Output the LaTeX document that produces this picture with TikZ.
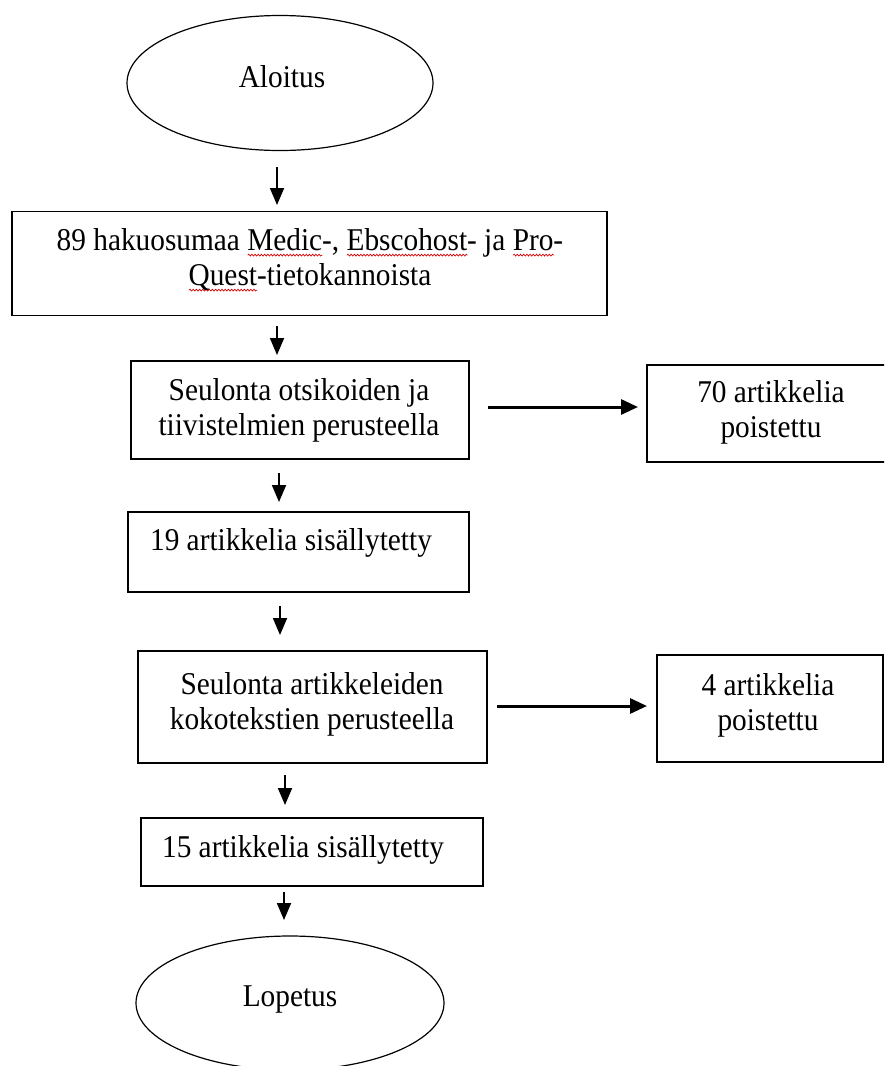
\documentclass[tikz,border=0pt]{standalone}
\usepackage{fontspec}
\setmainfont{Liberation Serif}[FakeStretch=0.925]
\usetikzlibrary{shapes.geometric,arrows.meta,decorations.pathmorphing}
\newlength\wavelen
\newcommand\spellwave[1]{\settowidth{\wavelen}{#1}\rlap{\tikz[baseline=0pt]\draw[red!85!black, line width=0.7pt, decorate, decoration={snake, amplitude=0.9pt, segment length=3.2pt}] (0pt,-4.5pt) -- (\wavelen,-4.5pt);}#1}
\begin{document}
\begin{tikzpicture}[x=1pt,y=-1pt,
  every node/.style={font=\fontsize{31.7}{35}\selectfont},
  box/.style={draw, line width=1.3pt, rectangle, inner sep=0pt},
  oval/.style={draw, line width=1.2pt, ellipse, inner sep=0pt},
  txt/.style={align=center, inner sep=0pt},
  down/.style={line width=1.8pt, -{Triangle[length=17pt,width=14pt]}},
  side/.style={line width=3pt, -{Triangle[length=17pt,width=15pt]}}]
\clip (0,0) rectangle (884,1066);
\fill[white] (0,0) rectangle (884,1066);

% shapes
\node[oval, minimum width=306pt, minimum height=135pt] (start) at (280,83) {};
\node[txt] (startT) at (282,77) {Aloitus};

\node[box, minimum width=595pt, minimum height=104pt] (b1) at (309.5,263.5) {};
\node[txt] (t1) at (310,260) {89 hakuosumaa \spellwave{Medic}-, \spellwave{Ebscohost}- ja \spellwave{Pro}-\\\spellwave{Quest}-tietokannoista};

\node[box, minimum width=338pt, minimum height=98pt] (b2) at (300,410) {};
\node[txt] (t2) at (299,410) {Seulonta otsikoiden ja\\tiivistelmien perusteella};

\node[box, minimum width=250pt, minimum height=97pt] (r1) at (772,413.5) {};
\node[txt] (tr1) at (771,412) {70 artikkelia\\poistettu};

\node[box, minimum width=341pt, minimum height=80pt] (b3) at (298.5,552) {};
\node[txt] (t3) at (291,543) {19 artikkelia sisällytetty};

\node[box, minimum width=349pt, minimum height=112pt] (b4) at (312.5,707) {};
\node[txt] (t4) at (312,704) {Seulonta artikkeleiden\\kokotekstien perusteella};

\node[box, minimum width=226pt, minimum height=107pt] (r2) at (770,708.5) {};
\node[txt] (tr2) at (768,705) {4 artikkelia\\poistettu};

\node[box, minimum width=342pt, minimum height=68pt] (b5) at (312,852) {};
\node[txt] (t5) at (303,850) {15 artikkelia sisällytetty};

\node[oval, minimum width=308pt, minimum height=134pt] (end) at (290,1003) {};
\node[txt] (endT) at (290,999) {Lopetus};

% arrow end points
\coordinate (a1s) at (277,167); \coordinate (a1e) at (277,205);
\coordinate (a2s) at (277,326); \coordinate (a2e) at (277,355);
\coordinate (a3s) at (279,473); \coordinate (a3e) at (279,502);
\coordinate (a4s) at (280,606); \coordinate (a4e) at (280,635);
\coordinate (a5s) at (285,775); \coordinate (a5e) at (285,805);
\coordinate (a6s) at (284,892); \coordinate (a6e) at (284,920);
\coordinate (r1s) at (488,407); \coordinate (r1e) at (638,407);
\coordinate (r2s) at (497,706); \coordinate (r2e) at (647,706);

\draw[down] (a1s) -- (a1e);
\draw[down] (a2s) -- (a2e);
\draw[down] (a3s) -- (a3e);
\draw[down] (a4s) -- (a4e);
\draw[down] (a5s) -- (a5e);
\draw[down] (a6s) -- (a6e);
\draw[side] (r1s) -- (r1e);
\draw[side] (r2s) -- (r2e);
\end{tikzpicture}
\end{document}
